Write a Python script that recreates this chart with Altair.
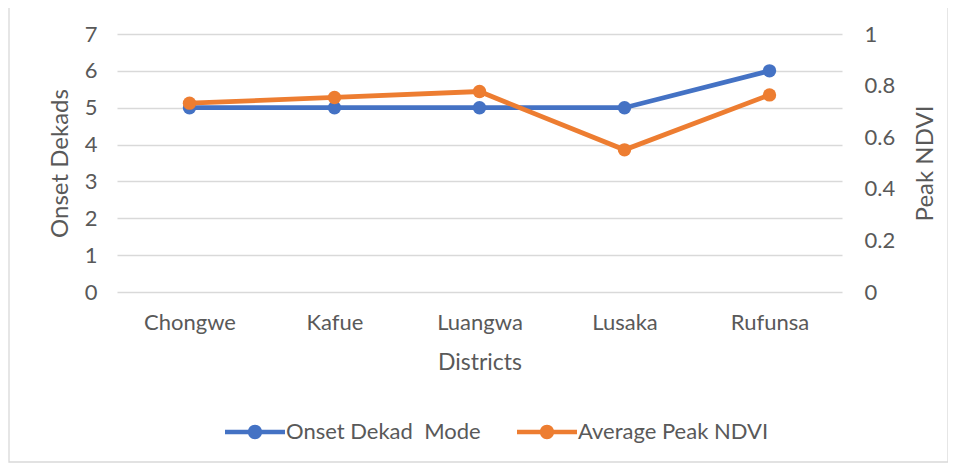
import altair as alt
import pandas as pd

districts = ["Chongwe", "Kafue", "Luangwa", "Lusaka", "Rufunsa"]
onset_mode = [5, 5, 5, 5, 6]
peak_ndvi = [0.732, 0.754, 0.777, 0.551, 0.764]
series_names = ["Onset Dekad\u00a0 Mode", "Average Peak NDVI"]
series_colors = ["#4472C4", "#ED7D31"]
left_ticks = [0, 1, 2, 3, 4, 5, 6, 7]
right_ticks = [0, 0.2, 0.4, 0.6, 0.8, 1]

df = pd.DataFrame({"District": districts, "Onset": onset_mode, "NDVI": peak_ndvi})

FONT = "Lato"
TXT = "#595959"

color = alt.Color(
    "series:N",
    scale=alt.Scale(domain=series_names, range=series_colors),
    legend=alt.Legend(
        title=None,
        orient="none",
        direction="horizontal",
        legendX=108,
        legendY=368,
        symbolType="M-1,-0.075L1,-0.075L1,0.075L-1,0.075Z M0.24,0A0.24,0.24 0 1 1 -0.24,0A0.24,0.24 0 1 1 0.24,0Z",
        symbolSize=3600,
        symbolStrokeWidth=0,
        symbolOpacity=1,
        labelOffset=1,
        labelLimit=400,
        columnPadding=36,
        labelFont=FONT,
        labelFontSize=22,
        labelColor=TXT,
        padding=0,
    ),
)

x = alt.X(
    "District:N",
    sort=districts,
    title="Districts",
    axis=alt.Axis(
        labelAngle=0, ticks=False, domain=False, grid=False,
        labelPadding=20, labelFontSize=22, labelFont=FONT, labelColor=TXT,
        titleFont=FONT, titleFontSize=23, titleColor=TXT, titleFontWeight="normal",
        titlePadding=18,
    ),
)

y_left = alt.Y(
    "Onset:Q",
    title="Onset Dekads",
    scale=alt.Scale(domain=[0, 7], nice=False),
    axis=alt.Axis(
        values=left_ticks, ticks=False, domain=False, grid=True,
        gridColor="#D9D9D9", gridWidth=1.3,
        labelPadding=20, labelFontSize=22, labelFont=FONT, labelColor=TXT,
        titleFont=FONT, titleFontSize=24, titleColor=TXT, titleFontWeight="normal",
        titlePadding=12,
    ),
)

y_right = alt.Y(
    "NDVI:Q",
    title="Peak NDVI",
    scale=alt.Scale(domain=[0, 1], nice=False),
    axis=alt.Axis(
        orient="right", values=right_ticks, format="~g", ticks=False, domain=False, grid=False,
        labelPadding=22, labelFontSize=22, labelFont=FONT, labelColor=TXT,
        titleFont=FONT, titleFontSize=24, titleColor=TXT, titleFontWeight="normal",
        titleAngle=270, titleX=83, titleY=129, titleBaseline="middle", titleAlign="center",
    ),
)

base = alt.Chart(df)

blue_base = base.transform_calculate(series=f"'{series_names[0]}'").encode(x=x, y=y_left, color=color)
orange_base = base.transform_calculate(series=f"'{series_names[1]}'").encode(x=x, y=y_right, color=color)

blue = alt.layer(
    blue_base.mark_line(strokeWidth=4.8),
    blue_base.mark_point(filled=True, size=180, opacity=1),
)
orange = alt.layer(
    orange_base.mark_line(strokeWidth=4.8),
    orange_base.mark_point(filled=True, size=180, opacity=1),
)

frame = alt.Chart(pd.DataFrame({"a": [0]})).mark_rect(
    fill=None, stroke="#D9D9D9", strokeWidth=1.3
).encode(
    x=alt.value(-108), x2=alt.value(831), y=alt.value(-29), y2=alt.value(428)
)

chart = alt.layer(frame, blue, orange).resolve_scale(y="independent").properties(
    width=725,
    height=258,
    padding={"left": 109, "top": 26, "right": 106, "bottom": 172},
    autosize=alt.AutoSizeParams(type="none"),
).configure_view(stroke=None)

chart.save("out.html", embed_options={"renderer": "svg", "actions": False})
